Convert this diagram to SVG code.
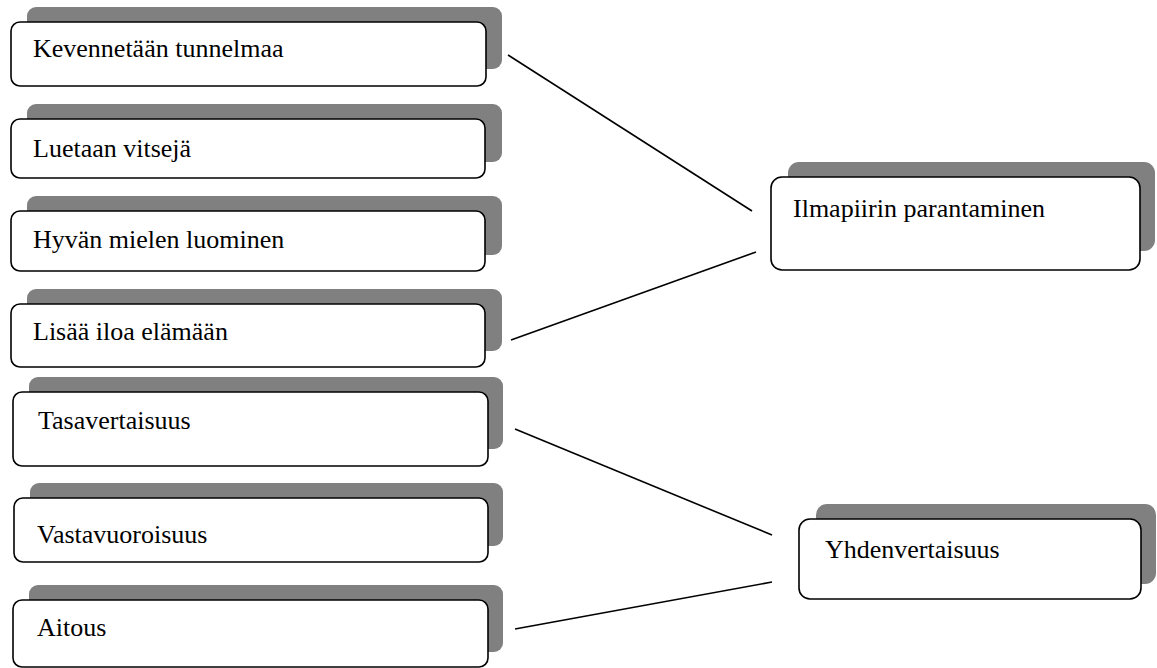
<svg xmlns="http://www.w3.org/2000/svg" width="1157" height="668" viewBox="0 0 1157 668">
  <style>
    .shadow { fill: #808080; }
    .box { fill: #ffffff; stroke: #000000; stroke-width: 1.6; }
    .label { font-family: "Liberation Serif", "Times New Roman", serif; font-size: 26px; fill: #000000; }
    .link { stroke: #000000; stroke-width: 1.6; fill: none; }
  </style>

  <!-- connectors -->
  <g id="connectors">
    <line class="link" x1="508" y1="55" x2="752" y2="211"/>
    <line class="link" x1="511" y1="340" x2="756" y2="252"/>
    <line class="link" x1="515" y1="429" x2="772" y2="535"/>
    <line class="link" x1="515" y1="629" x2="772" y2="582"/>
  </g>

  <!-- left column -->
  <g id="kevennetaan">
    <rect class="shadow" x="27" y="7" width="475" height="62" rx="9"/>
    <rect class="box" x="11" y="22" width="475" height="64" rx="9"/>
    <text class="label" x="33" y="57">Kevennetään tunnelmaa</text>
  </g>
  <g id="luetaan">
    <rect class="shadow" x="27" y="104" width="475" height="58" rx="9"/>
    <rect class="box" x="11" y="119" width="474" height="59" rx="9"/>
    <text class="label" x="33" y="157">Luetaan vitsejä</text>
  </g>
  <g id="hyvan">
    <rect class="shadow" x="27" y="196" width="475" height="59" rx="9"/>
    <rect class="box" x="11" y="211" width="474" height="60" rx="9"/>
    <text class="label" x="33" y="248">Hyvän mielen luominen</text>
  </g>
  <g id="lisaa">
    <rect class="shadow" x="27" y="289" width="475" height="62" rx="9"/>
    <rect class="box" x="11" y="304" width="474" height="63" rx="9"/>
    <text class="label" x="33" y="340">Lisää iloa elämään</text>
  </g>
  <g id="tasavertaisuus">
    <rect class="shadow" x="29" y="377" width="474" height="72" rx="9"/>
    <rect class="box" x="13" y="392" width="475" height="74" rx="9"/>
    <text class="label" x="38" y="429">Tasavertaisuus</text>
  </g>
  <g id="vastavuoroisuus">
    <rect class="shadow" x="30" y="483" width="473" height="63" rx="9"/>
    <rect class="box" x="14" y="498" width="474" height="64" rx="9"/>
    <text class="label" x="37" y="543">Vastavuoroisuus</text>
  </g>
  <g id="aitous">
    <rect class="shadow" x="29" y="585" width="474" height="67" rx="9"/>
    <rect class="box" x="13" y="600" width="475" height="67" rx="9"/>
    <text class="label" x="37" y="636">Aitous</text>
  </g>

  <!-- right column -->
  <g id="ilmapiiri">
    <rect class="shadow" x="788" y="162" width="367" height="89" rx="11"/>
    <rect class="box" x="771" y="177" width="369" height="93" rx="11"/>
    <text class="label" x="793" y="217">Ilmapiirin parantaminen</text>
  </g>
  <g id="yhdenvertaisuus">
    <rect class="shadow" x="816" y="504" width="340" height="80" rx="11"/>
    <rect class="box" x="799" y="519" width="342" height="80" rx="11"/>
    <text class="label" x="825" y="558">Yhdenvertaisuus</text>
  </g>
</svg>
